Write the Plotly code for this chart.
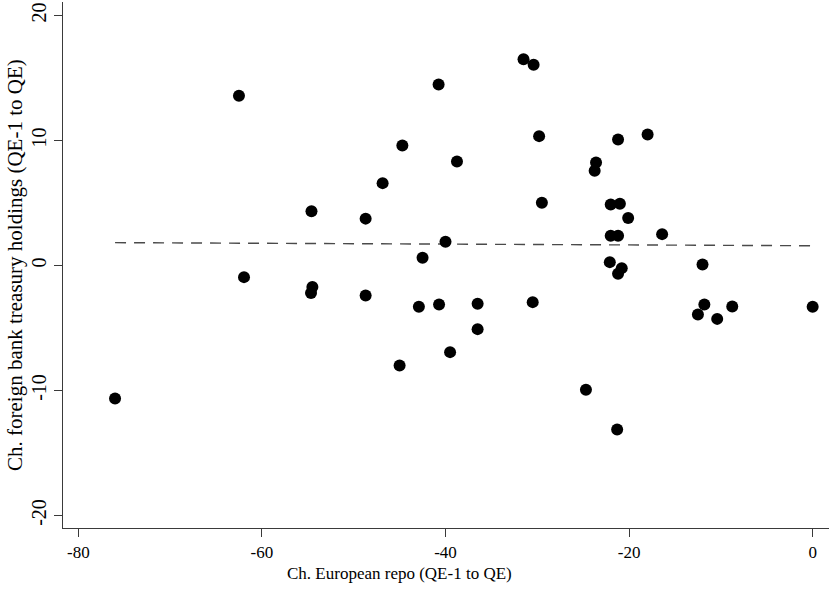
import plotly.graph_objects as go

# Data
repo_change = [-76.0, -62.5, -61.95, -54.6, -54.5, -54.65, -48.7, -48.7, -46.85, -45.0,
               -44.7, -42.9, -42.5, -40.75, -40.7, -40.0, -39.5, -38.75, -36.5, -36.5,
               -31.5, -30.4, -30.5, -29.8, -29.5, -24.7, -23.6, -23.75, -22.0, -21.0,
               -22.0, -21.2, -22.1, -21.2, -20.8, -21.2, -21.3, -20.1, -17.98, -16.4,
               -12.0, -11.8, -12.5, -10.4, -8.76, 0.0]
treasury_change = [-10.64, 13.58, -0.93, 4.34, -1.72, -2.2, 3.75, -2.4, 6.59, -8.0,
                   9.6, -3.3, 0.62, 14.48, -3.12, 1.9, -6.93, 8.32, -3.06, -5.09,
                   16.5, 16.06, -2.93, 10.35, 5.02, -9.94, 8.24, 7.58, 4.88, 4.94,
                   2.38, 2.38, 0.27, 10.08, -0.21, -0.66, -13.12, 3.8, 10.48, 2.51,
                   0.08, -3.12, -3.92, -4.27, -3.28, -3.3]
fit_x = [-76.0, 0.2]
fit_y = [1.83, 1.58]

x_ticks = [-80, -60, -40, -20, 0]
y_ticks = [-20, -10, 0, 10, 20]
x_title = "Ch. European repo (QE-1 to QE)"
y_title = "Ch. foreign bank treasury holdings (QE-1 to QE)"

W, H = 829, 589
L, R, T, B = 63, 0, 2, 61
PW, PH = W - L - R, H - T - B

FONT = "Liberation Serif, Times New Roman, serif"
AXC = "#3a3a3a"

fig = go.Figure()
fig.add_trace(go.Scatter(x=fit_x, y=fit_y, mode="lines",
                         line=dict(color="#4a4a4a", width=1.4, dash="11px,8px"),
                         hoverinfo="skip", showlegend=False))
fig.add_trace(go.Scatter(x=repo_change, y=treasury_change, mode="markers",
                         marker=dict(color="black", size=12, line=dict(width=0)),
                         showlegend=False))

fig.update_layout(
    width=W, height=H,
    margin=dict(l=L, r=R, t=T, b=B, pad=0),
    paper_bgcolor="white", plot_bgcolor="white",
    font=dict(family=FONT, color="black"),
    xaxis=dict(range=[-81.67, 1.78], tickvals=x_ticks, ticktext=[str(v) for v in x_ticks],
               showgrid=False, zeroline=False, showline=True, linecolor=AXC, linewidth=1.3,
               ticks="outside", ticklen=8, tickwidth=1.3, tickcolor=AXC,
               tickfont=dict(family=FONT, size=17, color="black")),
    yaxis=dict(range=[-21.0, 21.08], tickvals=y_ticks, ticktext=[str(v) for v in y_ticks],
               showgrid=False, zeroline=False, showline=True, linecolor=AXC, linewidth=1.3,
               ticks="outside", ticklen=8, tickwidth=1.3, tickcolor=AXC, tickangle=-90,
               tickfont=dict(family=FONT, size=20, color="black")),
    annotations=[
        dict(text=x_title, xref="paper", yref="paper", x=(399 - L) / PW, y=0,
             yshift=-45, xanchor="center", yanchor="middle", showarrow=False,
             font=dict(family=FONT, size=17, color="black")),
        dict(text=y_title, xref="paper", yref="paper", x=(15 - L) / PW, y=0.5,
             textangle=-90, xanchor="center", yanchor="middle", showarrow=False,
             font=dict(family=FONT, size=21, color="black")),
    ],
)

fig.write_html("out.html")
